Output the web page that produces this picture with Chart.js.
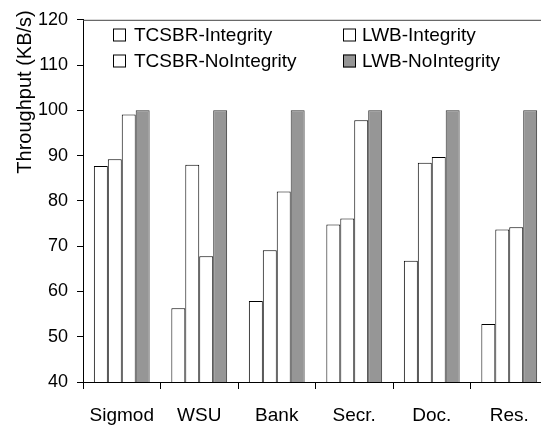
<!DOCTYPE html>
<html>
<head>
<meta charset="utf-8">
<title>Throughput</title>
<script src="https://cdn.jsdelivr.net/npm/chart.js@4.4.1/dist/chart.umd.min.js"></script>
<style>
  html, body { margin: 0; padding: 0; background: #fff; overflow: hidden; }
  #wrap { width: 541px; height: 427px; overflow: hidden; }
</style>
</head>
<body>
<div id="wrap"><canvas id="chart" width="560" height="427"></canvas></div>
<script>
// ---- data ----
const categories = ["Sigmod", "WSU", "Bank", "Secr.", "Doc.", "Res."];
const seriesNames = ["TCSBR-Integrity", "LWB-Integrity", "TCSBR-NoIntegrity", "LWB-NoIntegrity"];
const tcsbrIntegrity   = [87.7, 56.3, 57.9, 74.8, 66.8, 52.8];
const lwbIntegrity     = [89.2, 88.0, 69.1, 76.1, 88.4, 73.7];
const tcsbrNoIntegrity = [99.1, 67.8, 82.1, 97.8, 89.7, 74.2];
const lwbNoIntegrity   = [100, 100, 100, 100, 100, 100];
const yTicks = [40, 50, 60, 70, 80, 90, 100, 110, 120];
const yTitle = "Throughput (KB/s)";

const FONT = "'Liberation Sans', Arial, sans-serif";

// legend drawn inside the plot, two columns
const insideLegend = {
    id: "insideLegend",
    afterDraw(chart) {
        const ctx = chart.ctx;
        const area = chart.chartArea;
        const cols = [113, 343];
        const rows = [35, 61];
        ctx.save();
        ctx.font = "19px " + FONT;
        ctx.textBaseline = "middle";
        ctx.fillStyle = "#000";
        chart.data.datasets.forEach((ds, i) => {
            let x = cols[i % 2];
            let y = rows[Math.floor(i / 2)];
            ctx.fillStyle = ds.backgroundColor;
            ctx.fillRect(x, y - 6.5, 13, 13);
            ctx.strokeStyle = "#000";
            ctx.lineWidth = 1;
            ctx.strokeRect(x + 0.5, y - 6, 12, 12);
            ctx.fillStyle = "#000";
            ctx.fillText(ds.label, x + (i % 2 ? 19 : 21), y + 1);
        });

        // top border of the plot area
        ctx.strokeStyle = "#444";
        ctx.beginPath();
        ctx.moveTo(area.left, area.top + 0.5);
        ctx.lineTo(area.right, area.top + 0.5);
        ctx.stroke();

        // y axis title, sits high on the axis
        ctx.translate(25, 92);
        ctx.rotate(-Math.PI / 2);
        ctx.textAlign = "center";
        ctx.font = "20px " + FONT;
        ctx.fillText(yTitle, 0, 0);
        ctx.restore();
    }
};

const whiteBar = { backgroundColor: "#ffffff", borderColor: "#000000", borderWidth: 1 };
const grayBar = { backgroundColor: "#969696", borderColor: "#333333", borderWidth: 1 };

new Chart(document.getElementById("chart"), {
    type: "bar",
    data: {
        labels: categories,
        datasets: [
            { label: seriesNames[0], data: tcsbrIntegrity, ...whiteBar },
            { label: seriesNames[1], data: lwbIntegrity, ...whiteBar },
            { label: seriesNames[2], data: tcsbrNoIntegrity, ...whiteBar },
            { label: seriesNames[3], data: lwbNoIntegrity, ...grayBar }
        ]
    },
    options: {
        responsive: false,
        animation: false,
        devicePixelRatio: 1,
        categoryPercentage: 0.72,
        barPercentage: 1,
        layout: { padding: { top: 17, left: 0, right: 12, bottom: 0 } },
        plugins: {
            legend: { display: false },
            tooltip: { enabled: false }
        },
        scales: {
            x: {
                offset: true,
                grid: { offset: true, drawOnChartArea: false, tickLength: 7, color: "#000" },
                border: { color: "#000", width: 1 },
                ticks: { color: "#000", padding: 15, font: { family: FONT, size: 19 } },
                afterFit(scale) { scale.height = 45; }
            },
            y: {
                min: 40,
                max: 120,
                afterBuildTicks(scale) { scale.ticks = yTicks.map(v => ({ value: v })); },
                grid: { drawOnChartArea: false, tickLength: 6, color: "#000" },
                border: { color: "#000", width: 1 },
                ticks: { color: "#000", padding: 9, font: { family: FONT, size: 18 } },
                afterFit(scale) { scale.width = 83; }
            }
        }
    },
    plugins: [insideLegend]
});
</script>
</body>
</html>
